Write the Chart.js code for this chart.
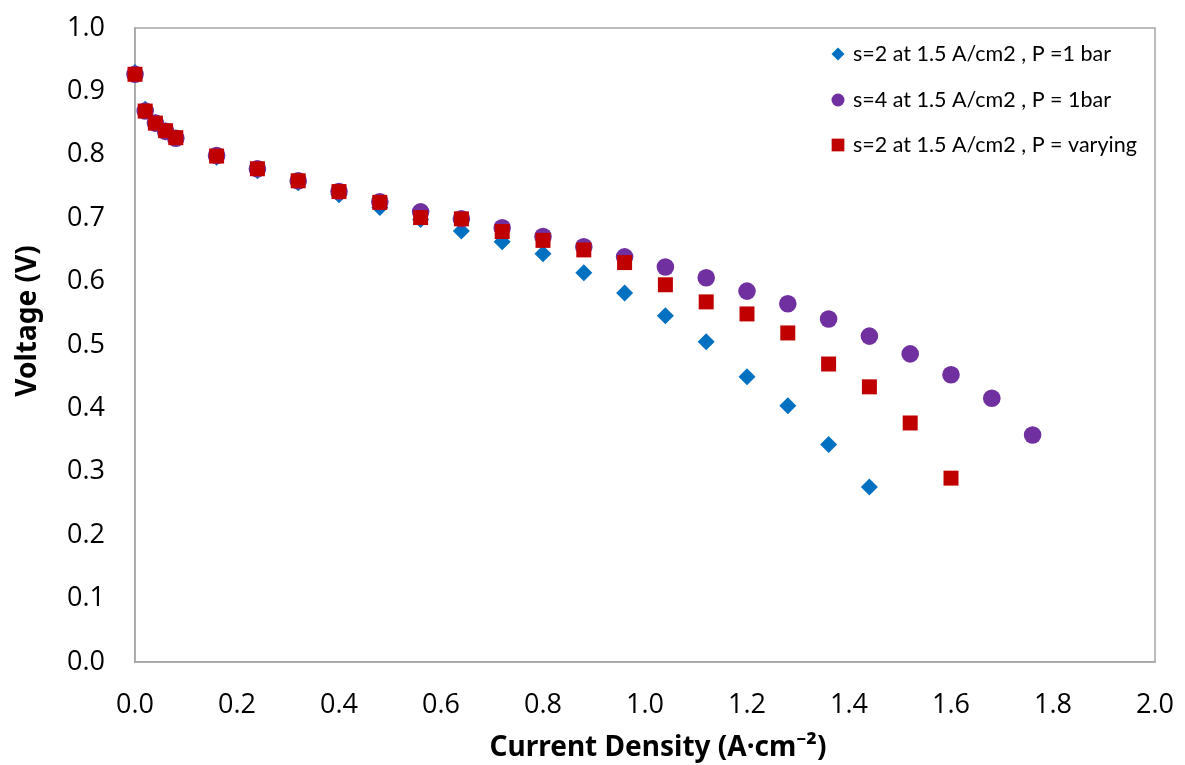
<!DOCTYPE html>
<html>
<head>
<meta charset="utf-8">
<title>Polarization curves</title>
<script src="https://cdn.jsdelivr.net/npm/chart.js@4.4.1/dist/chart.umd.min.js"></script>
<style>
    html, body { margin: 0; padding: 0; background: #fff; }
    #wrap { width: 1185px; height: 765px; }
</style>
</head>
<body>
<div id="wrap"><canvas id="chartVI" width="1185" height="765"></canvas></div>
<script>
(function () {
    "use strict";

    // ============================
    // Data
    // ============================
    const seriesLabels = [
        "s=2 at 1.5 A/cm2 , P =1 bar",
        "s=4 at 1.5 A/cm2 , P = 1bar",
        "s=2 at 1.5 A/cm2 , P = varying",
    ];

    const currentS2 = [0, 0.02, 0.04, 0.06, 0.08, 0.16, 0.24, 0.32, 0.40, 0.48, 0.56, 0.64, 0.72, 0.80,
        0.88, 0.96, 1.04, 1.12, 1.20, 1.28, 1.36, 1.44];
    const voltageS2 = [0.930, 0.872, 0.851, 0.838, 0.826, 0.796, 0.775, 0.756, 0.737, 0.717, 0.698, 0.680,
        0.663, 0.644, 0.614, 0.582, 0.546, 0.505, 0.450, 0.404, 0.343, 0.276];

    const currentS4 = [0, 0.02, 0.04, 0.06, 0.08, 0.16, 0.24, 0.32, 0.40, 0.48, 0.56, 0.64, 0.72, 0.80,
        0.88, 0.96, 1.04, 1.12, 1.20, 1.28, 1.36, 1.44, 1.52, 1.60, 1.68, 1.76];
    const voltageS4 = [0.927, 0.869, 0.850, 0.837, 0.826, 0.799, 0.778, 0.759, 0.742, 0.726, 0.710, 0.699,
        0.685, 0.671, 0.655, 0.639, 0.623, 0.606, 0.585, 0.565, 0.541, 0.514, 0.486, 0.453, 0.416, 0.358];

    const currentVar = [0, 0.02, 0.04, 0.06, 0.08, 0.16, 0.24, 0.32, 0.40, 0.48, 0.56, 0.64, 0.72, 0.80,
        0.88, 0.96, 1.04, 1.12, 1.20, 1.28, 1.36, 1.44, 1.52, 1.60];
    const voltageVar = [0.927, 0.869, 0.850, 0.838, 0.827, 0.798, 0.778, 0.759, 0.742, 0.725, 0.701, 0.699,
        0.679, 0.665, 0.650, 0.630, 0.595, 0.568, 0.549, 0.519, 0.470, 0.434, 0.377, 0.290];

    const xTitle = "Current Density (A·cm⁻²)";
    const yTitle = "Voltage (V)";

    // Helpers
    const toPoints = (xs, ys) => xs.map((x, i) => ({ x, y: ys[i] }));

    const TICK_FONT = { family: "'Open Sans', sans-serif", size: 27 };
    const AXIS_GRAY = "#a6a6a6";

    // ============================
    // Plugins: plot frame, axis titles, inside legend
    // ============================
    const framePlugin = {
        id: "frame",
        beforeDatasetsDraw(chart) {
            const { ctx, chartArea: a } = chart;
            ctx.save();
            ctx.strokeStyle = AXIS_GRAY;
            ctx.lineWidth = 1.5;
            ctx.strokeRect(a.left, a.top, a.right - a.left, a.bottom - a.top);
            ctx.restore();
        },
    };

    const titlesPlugin = {
        id: "axisTitles",
        afterDraw(chart) {
            const { ctx, chartArea: a } = chart;
            ctx.save();
            ctx.fillStyle = "#000";
            ctx.textAlign = "center";
            ctx.textBaseline = "middle";
            ctx.font = "bold 28px 'Liberation Sans Narrow', 'Noto Sans', sans-serif";
            ctx.fillText(xTitle, a.left + (a.right - a.left) / 2 + 13, 748);
            ctx.translate(28, a.top + (a.bottom - a.top) / 2 - 24);
            ctx.rotate(-Math.PI / 2);
            ctx.fillText(yTitle, 0, 0);
            ctx.restore();
        },
    };

    const legendPlugin = {
        id: "insideLegend",
        afterDraw(chart) {
            const { ctx } = chart;
            const x0 = 838;
            const rows = [54, 100, 145];
            ctx.save();
            ctx.font = "21.5px Lato, sans-serif";
            ctx.textAlign = "left";
            ctx.textBaseline = "middle";
            chart.data.datasets.forEach((ds, i) => {
                ctx.fillStyle = ds.backgroundColor;
                Chart.helpers.drawPoint(ctx, {
                    pointStyle: ds.pointStyle,
                    radius: ds.legendRadius,
                    borderWidth: 0,
                    rotation: 0,
                }, x0, rows[i]);
                ctx.fillStyle = "#000";
                ctx.fillText(ds.label, x0 + 15, rows[i]);
            });
            ctx.restore();
        },
    };

    // ============================
    // Chart
    // ============================
    const canvas = document.getElementById("chartVI");

    new Chart(canvas, {
        type: "scatter",
        data: {
            datasets: [
                {
                    label: seriesLabels[0],
                    data: toPoints(currentS2, voltageS2),
                    pointStyle: "rectRot",
                    pointRadius: 8.5,
                    legendRadius: 6.5,
                    backgroundColor: "#0070c0",
                    borderColor: "#0070c0",
                    borderWidth: 0,
                    clip: false,
                    order: 3,
                },
                {
                    label: seriesLabels[1],
                    data: toPoints(currentS4, voltageS4),
                    pointStyle: "circle",
                    pointRadius: 8.8,
                    legendRadius: 6.5,
                    backgroundColor: "#7030a0",
                    borderColor: "#7030a0",
                    borderWidth: 0,
                    clip: false,
                    order: 2,
                },
                {
                    label: seriesLabels[2],
                    data: toPoints(currentVar, voltageVar),
                    pointStyle: "rect",
                    pointRadius: 10.6,
                    legendRadius: 9,
                    backgroundColor: "#c00000",
                    borderColor: "#c00000",
                    borderWidth: 0,
                    clip: false,
                    order: 1,
                },
            ],
        },
        options: {
            responsive: false,
            animation: false,
            layout: {
                padding: { top: 28, right: 30, left: 0, bottom: 0 },
            },
            plugins: {
                legend: { display: false },
                tooltip: { enabled: false },
            },
            scales: {
                x: {
                    type: "linear",
                    min: 0,
                    max: 2,
                    grid: { display: false, drawTicks: false },
                    border: { display: true, color: AXIS_GRAY, width: 1.5 },
                    ticks: {
                        stepSize: 0.2,
                        padding: 27,
                        color: "#000",
                        font: TICK_FONT,
                        maxRotation: 0,
                        callback: (v) => Number(v).toFixed(1),
                    },
                    afterFit: (scale) => {
                        scale.height = 103;
                        scale.paddingLeft = 0;
                        scale.paddingRight = 0;
                    },
                },
                y: {
                    type: "linear",
                    min: 0,
                    max: 1,
                    grid: { display: false, drawTicks: false },
                    border: { display: true, color: AXIS_GRAY, width: 1.5 },
                    ticks: {
                        stepSize: 0.1,
                        padding: 30,
                        color: "#000",
                        font: TICK_FONT,
                        callback: (v) => Number(v).toFixed(1),
                    },
                    afterFit: (scale) => {
                        scale.width = 135;
                        scale.paddingTop = 0;
                        scale.paddingBottom = 0;
                    },
                },
            },
        },
        plugins: [framePlugin, titlesPlugin, legendPlugin],
    });
})();
</script>
</body>
</html>
